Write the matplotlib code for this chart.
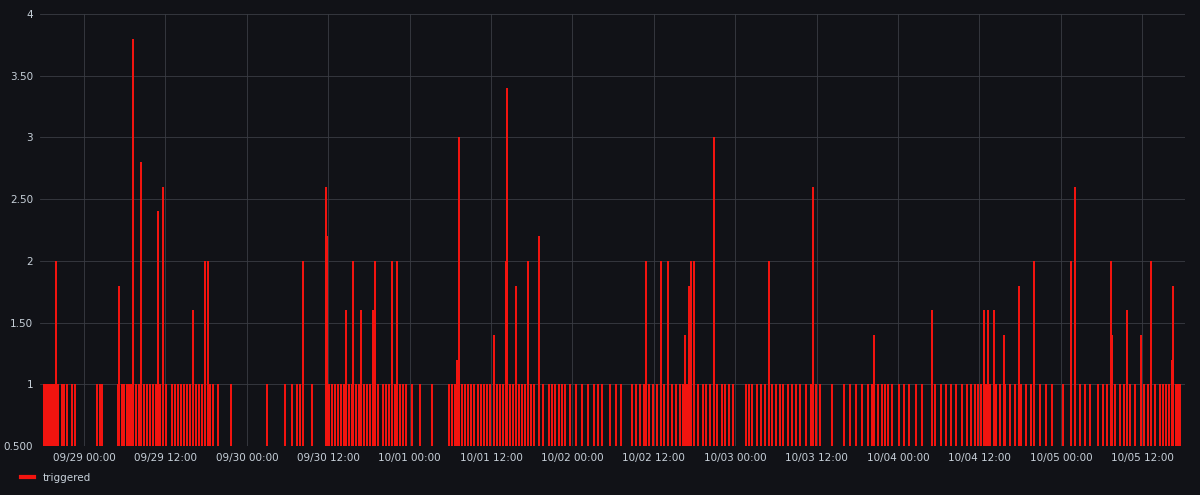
import matplotlib
matplotlib.use("Agg")
import matplotlib.pyplot as plt
from matplotlib.lines import Line2D

# hours relative to 09/29 00:00
ones_t = [-5.9, -5.6, -5.3, -5.0, -4.7, -4.4, -3.8, -3.2, -2.9, -2.5, -1.8, -1.3, 1.9, 2.4, 2.7,
          5.0, 5.6, 5.9, 6.3, 6.6, 6.9, 7.7, 8.1, 8.8, 9.3, 9.7, 10.2, 10.6, 11.2, 12.1, 13.0, 13.4,
          13.9, 14.3, 14.7, 15.2, 15.6, 16.5, 17.0, 17.4, 18.6, 19.0, 19.8, 21.7, 27.0, 29.6, 30.7,
          31.4, 31.8, 33.6, 36.1, 36.6, 37.0, 37.4, 37.9, 38.3, 39.1, 39.5, 40.1, 40.5, 41.3, 41.7,
          42.2, 43.3, 44.1, 44.5, 45.0, 45.8, 46.6, 47.0, 47.5, 48.3, 49.5, 51.3, 53.8, 54.2, 54.7,
          55.7, 56.2, 56.6, 57.0, 57.5, 58.1, 58.5, 59.0, 59.4, 59.8, 60.9, 61.3, 61.8, 62.8, 63.2,
          64.1, 64.6, 65.0, 65.9, 66.3, 67.7, 68.5, 69.0, 69.4, 70.0, 70.5, 70.9, 71.6, 72.5, 73.4,
          74.3, 75.2, 75.8, 76.4, 77.5, 78.4, 79.2, 80.8, 81.4, 82.0, 82.5, 83.3, 83.9, 84.5, 85.5,
          86.7, 87.3, 87.8, 88.3, 88.9, 90.5, 91.2, 91.7, 92.3, 93.3, 94.0, 94.5, 95.1, 95.7, 97.6,
          98.0, 98.5, 99.2, 99.8, 100.4, 101.4, 102.0, 102.6, 103.0, 103.8, 104.4, 104.9, 105.5,
          106.4, 107.2, 107.9, 108.5, 110.3, 112.0, 112.9, 113.8, 114.7, 115.6, 116.2, 117.0, 117.6,
          118.1, 118.5, 119.1, 120.1, 120.9, 121.6, 122.6, 123.5, 125.4, 126.3, 127.1, 127.8, 128.5,
          129.4, 130.2, 130.7, 131.3, 131.8, 132.2, 133.0, 133.5, 134.4, 135.0, 135.8, 136.5, 137.2,
          138.1, 138.9, 139.6, 140.9, 141.8, 142.7, 144.3, 146.8, 147.5, 148.3, 149.5, 150.2, 150.8,
          152.0, 152.7, 153.3, 154.2, 155.0, 156.2, 156.8, 157.9, 158.6, 159.0, 159.5, 159.9, 161.0,
          161.3, 161.6]

spike_t = [-4.1, 5.2, 7.2, 8.4, 10.9, 11.6, 16.1, 17.8, 18.3, 32.3, 35.6, 35.8, 38.6, 39.7, 40.8,
           42.6, 42.9, 45.4, 46.1, 55.0, 55.3, 60.4, 62.2, 62.4, 63.7, 65.4, 67.1, 82.8, 85.0, 86.1,
           88.6, 89.2, 89.5, 89.9, 92.9, 101.0, 107.5, 116.4, 125.0, 132.7, 133.3, 134.1, 135.6,
           137.8, 140.0, 145.5, 146.1, 151.4, 151.5, 153.7, 155.8, 157.3, 160.4, 160.5]
spike_v = [2.0, 1.8, 3.8, 2.8, 2.4, 2.6, 1.6, 2.0, 2.0, 2.0, 2.6, 2.2, 1.6, 2.0, 1.6,
           1.6, 2.0, 2.0, 2.0, 1.2, 3.0, 1.4, 2.0, 3.4, 1.8, 2.0, 2.2, 2.0, 2.0, 2.0,
           1.4, 1.8, 2.0, 2.0, 3.0, 2.0, 2.6, 1.4, 1.6, 1.6, 1.6, 1.6, 1.4,
           1.8, 2.0, 2.0, 2.6, 2.0, 1.4, 1.6, 1.4, 2.0, 1.2, 1.8]

x_ticks = list(range(0, 157, 12))
x_labels = ["09/29 00:00", "09/29 12:00", "09/30 00:00", "09/30 12:00", "10/01 00:00",
            "10/01 12:00", "10/02 00:00", "10/02 12:00", "10/03 00:00", "10/03 12:00",
            "10/04 00:00", "10/04 12:00", "10/05 00:00", "10/05 12:00"]
y_ticks = [0.5, 1, 1.5, 2, 2.5, 3, 3.5, 4]
y_labels = ["0.500", "1", "1.50", "2", "2.50", "3", "3.50", "4"]

bg = "#111217"
txt = "#c7d0d9"
red = "#f2140f"

fig = plt.figure(figsize=(12, 4.95), dpi=100, facecolor=bg)
ax = fig.add_axes([40 / 1200, 1 - 446 / 495, 1145 / 1200, 432 / 495], facecolor=bg)

ax.vlines(ones_t, 0.5, 1, color=red, linewidth=1.2, antialiased=False, zorder=3)
ax.vlines(spike_t, 0.5, spike_v, color=red, linewidth=1.2, antialiased=False, zorder=3)

ax.set_xlim(-6.5, 162.3)
ax.set_ylim(0.5, 4)
ax.set_xticks(x_ticks, x_labels)
ax.set_yticks(y_ticks, y_labels)
ax.tick_params(colors=txt, labelsize=7.5, length=0, pad=5)
ax.grid(True, color="#3a3d44", linewidth=0.6)
ax.set_axisbelow(True)
for s in ax.spines.values():
    s.set_visible(False)

fig.legend(handles=[Line2D([], [], color=red, lw=3)], labels=["triggered"],
           loc="lower left", bbox_to_anchor=(12 / 1200, 3 / 495), frameon=False,
           labelcolor=txt, fontsize=7.5, handlelength=1.2)

fig.savefig("out.png", dpi=100, facecolor=bg)
